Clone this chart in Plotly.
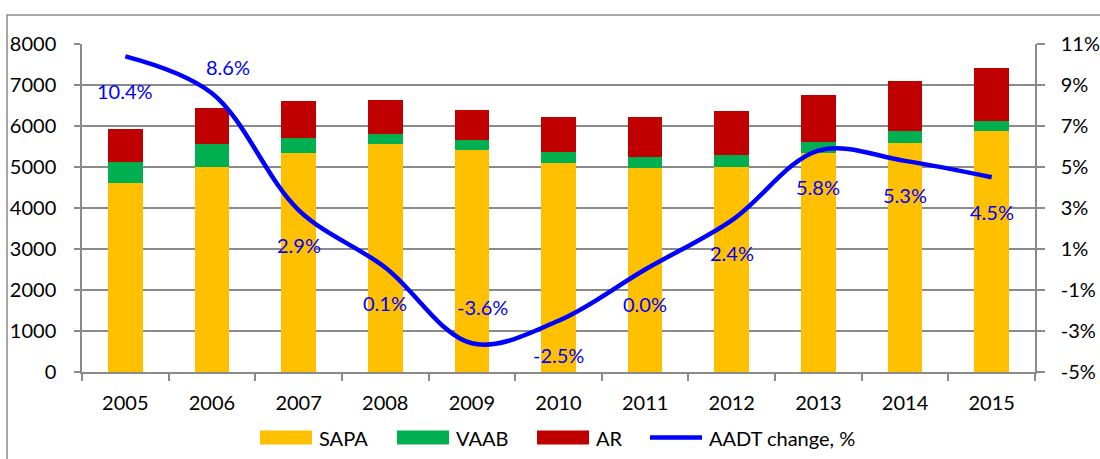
import plotly.graph_objects as go

years = ["2005", "2006", "2007", "2008", "2009", "2010", "2011", "2012", "2013", "2014", "2015"]
sapa = [4600, 4990, 5350, 5550, 5410, 5090, 4970, 4990, 5350, 5590, 5870]
vaab = [510, 560, 365, 245, 245, 285, 270, 295, 260, 280, 250]
ar = [810, 880, 900, 835, 730, 855, 990, 1090, 1140, 1235, 1300]
aadt_change = [10.4, 8.6, 2.9, 0.1, -3.6, -2.5, 0.0, 2.4, 5.8, 5.3, 4.5]

left_ticks = [0, 1000, 2000, 3000, 4000, 5000, 6000, 7000, 8000]
right_ticks = [-5, -3, -1, 1, 3, 5, 7, 9, 11]
right_tick_text = [f"{t}%" for t in right_ticks]

series_names = ["SAPA", "VAAB", "AR", "AADT change, %"]
series_colors = ["#FFC000", "#00B050", "#C00000", "#0000FF"]

# label offsets (pixels) for the data labels of the line
label_dx = [0, 16, 0, 0, 11, 0, 0, 0, 0, 0, 0]
label_dy = [-35, 26, -35, -36, 36, -34, -34, -33, -36, -34, -35]

FONT = "Lato"
FS = 20
GRID = "#8a8a8a"

# plot area in pixels
L, R, T, B = 82, 1035, 44, 372
W, H = 1100, 459


def px(x):
    return (x - L) / (R - L)


def py(y):
    return (B - y) / (B - T)


fig = go.Figure()
for name, vals, col in zip(series_names[:3], [sapa, vaab, ar], series_colors[:3]):
    fig.add_trace(go.Bar(x=years, y=vals, name=name, marker=dict(color=col, line=dict(width=0)),
                         showlegend=False))
fig.add_trace(go.Scatter(x=years, y=aadt_change, name=series_names[3], yaxis="y2", showlegend=False,
                         mode="lines", line=dict(color=series_colors[3], width=4.5, shape="spline", smoothing=1.0)))

for i, (v, dx, dy) in enumerate(zip(aadt_change, label_dx, label_dy)):
    fig.add_annotation(x=i, y=v, xref="x", yref="y2", text=f"{v:.1f}%", showarrow=False,
                       xshift=dx, yshift=dy, font=dict(family=FONT, size=FS, color="#0000FF"))

# outer chart-area border
fig.add_shape(type="rect", xref="paper", yref="paper", x0=px(7), x1=px(1110), y0=py(470), y1=py(15),
              line=dict(color="#8c8c8c", width=1.5), fillcolor="rgba(0,0,0,0)", layer="below")

# legend (drawn manually to match swatch shape and spacing)
leg_x = [260, 397, 537, 648]
leg_y = 437.5
for k, (name, col, x0) in enumerate(zip(series_names, series_colors, leg_x)):
    if k < 3:
        fig.add_shape(type="rect", xref="paper", yref="paper", x0=px(x0), x1=px(x0 + 52),
                      y0=py(leg_y + 7), y1=py(leg_y - 7), line=dict(width=0), fillcolor=col)
        tx = x0 + 57
    else:
        fig.add_shape(type="line", xref="paper", yref="paper", x0=px(x0 + 2), x1=px(x0 + 54),
                      y0=py(leg_y), y1=py(leg_y), line=dict(color=col, width=4.5))
        tx = x0 + 59
    fig.add_annotation(x=px(tx), y=py(leg_y), xref="paper", yref="paper", text=name, showarrow=False,
                       xanchor="left", yanchor="middle", font=dict(family=FONT, size=FS, color="#000000"))

fig.update_layout(
    width=W, height=H,
    margin=dict(l=L, r=W - R, t=T, b=H - B, autoexpand=False),
    paper_bgcolor="white", plot_bgcolor="white",
    barmode="stack", bargap=0.6,
    font=dict(family=FONT, size=FS, color="#000000"),
    xaxis=dict(type="category", showline=True, linecolor=GRID, linewidth=1.5,
               ticks="outside", tickson="boundaries", ticklen=7, tickcolor=GRID, tickwidth=1.5,
               showgrid=False, ticklabelstandoff=12, tickfont=dict(family=FONT, size=FS), automargin=False),
    yaxis=dict(range=[0, 8000], tickvals=left_ticks, showgrid=True, gridcolor=GRID, gridwidth=1.5,
               showline=True, linecolor=GRID, linewidth=1.5, ticks="outside", ticklen=6,
               tickcolor=GRID, tickwidth=1.5, zeroline=False, ticklabelstandoff=14,
               tickfont=dict(family=FONT, size=FS), automargin=False),
    yaxis2=dict(range=[-5, 11], tickvals=right_ticks, ticktext=right_tick_text, overlaying="y",
                side="right", showgrid=False, showline=True, linecolor=GRID, linewidth=1.5,
                ticks="outside", ticklen=8, tickcolor=GRID, tickwidth=1.5, zeroline=False,
                ticklabelstandoff=12, tickfont=dict(family=FONT, size=FS), automargin=False),
    showlegend=False,
)

fig.write_html("out.html", config={"displayModeBar": False},
               post_script="document.body.style.margin='0';document.body.style.overflow='hidden';")
